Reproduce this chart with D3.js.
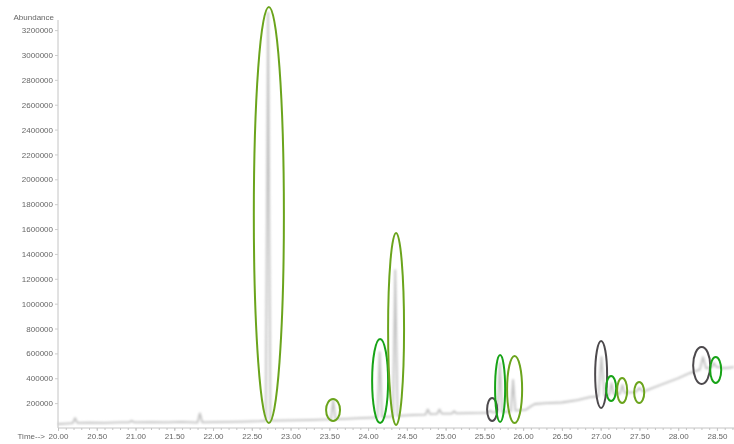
<!DOCTYPE html>
<html><head><meta charset="utf-8">
<script src="https://cdn.jsdelivr.net/npm/d3@7"></script>
<style>
html,body{margin:0;padding:0;background:#fff;}
svg{display:block;}
text{font-family:"Liberation Sans",Arial,sans-serif;fill:#666;}
</style></head>
<body>
<script>
// ---- data ----
const yTicks = [200000,400000,600000,800000,1000000,1200000,1400000,1600000,1800000,2000000,2200000,2400000,2600000,2800000,3000000,3200000];
const xTicks = [20.0,20.5,21.0,21.5,22.0,22.5,23.0,23.5,24.0,24.5,25.0,25.5,26.0,26.5,27.0,27.5,28.0,28.5];
const xTickLabels = ["20.00","20.50","21.00","21.50","22.00","22.50","23.00","23.50","24.00","24.50","25.00","25.50","26.00","26.50","27.00","27.50","28.00","28.50"];
// chromatogram trace: time (min)
const traceTime = [20.00,20.10,20.19,20.22,20.25,20.40,20.60,20.80,20.92,20.95,20.98,21.20,21.40,21.60,21.80,21.83,21.86,22.00,22.20,22.40,22.60,22.68,22.71,22.74,22.80,23.00,23.20,23.40,23.52,23.55,23.58,23.70,23.90,24.05,24.12,24.15,24.18,24.28,24.32,24.35,24.38,24.50,24.61,24.74,24.77,24.80,24.89,24.92,24.95,25.08,25.11,25.14,25.30,25.45,25.54,25.57,25.60,25.67,25.70,25.73,25.84,25.87,25.90,26.03,26.10,26.15,26.30,26.50,26.70,26.86,26.97,27.01,27.05,27.11,27.14,27.17,27.25,27.28,27.31,27.45,27.50,27.55,27.77,28.00,28.15,28.28,28.32,28.36,28.43,28.46,28.49,28.60,28.72];
// chromatogram trace: abundance
const traceAbund = [32000,36000,40000,80000,42000,44000,42000,46000,46000,58000,46000,48000,46000,50000,44000,118000,46000,48000,50000,52000,56000,60000,3340000,62000,60000,62000,64000,68000,70000,225000,72000,74000,80000,84000,86000,611000,90000,92000,94000,1270000,98000,102000,105000,108000,150000,112000,114000,150000,116000,116000,135000,118000,120000,121000,124000,140000,126000,128000,523000,130000,134000,386000,140000,145000,175000,193000,200000,205000,225000,249000,255000,571000,262000,268000,360000,272000,276000,346000,282000,288000,322000,292000,346000,400000,442000,470000,571000,480000,488000,523000,492000,482000,490000];
// annotation ellipses: centre time, half width (min), top and bottom abundance, colour kind
const annTime   = [22.72,23.548,24.155,24.361,25.600,25.703,25.890,27.006,27.135,27.277,27.497,28.303,28.484];
const annHalfW  = [0.194,0.09,0.103,0.103,0.065,0.065,0.097,0.077,0.065,0.065,0.065,0.11,0.071];
const annTop    = [3386000,233000,716000,1568000,241000,587000,579000,700000,418000,402000,370000,651000,571000];
const annBottom = [40000,56000,40000,24000,56000,48000,40000,161000,217000,201000,201000,354000,362000];
const annKind   = ["olive","olive","green","olive","gray","green","olive","gray","green","olive","olive","gray","green"];

// ---- drawing ----
const W = 734, H = 444;
const colors = {olive:"#6ba41c", green:"#18a318", gray:"#4d4a4d"};
const x = d3.scaleLinear().domain([20, 28.72]).range([58, 734]);
const y = d3.scaleLinear().domain([0, 3200000]).range([428, 30.1]);

const svg = d3.select("body").append("svg").attr("width", W).attr("height", H);
const defs = svg.append("defs");
defs.append("filter").attr("id","blur").attr("x","-20%").attr("y","-5%").attr("width","140%").attr("height","110%")
  .append("feGaussianBlur").attr("stdDeviation", 1.2);
defs.append("filter").attr("id","soft")
  .append("feGaussianBlur").attr("stdDeviation", 0.5);

// y axis
const yAxis = d3.axisLeft(y).tickValues(yTicks).tickSize(3).tickFormat(d3.format("d"));
const gy = svg.append("g").attr("transform","translate(58,0)").attr("filter","url(#soft)").call(yAxis);
gy.select(".domain").attr("stroke","#c4c4c4").attr("d","M0,20V428");
gy.selectAll(".tick line").attr("stroke","#ccc");
gy.selectAll(".tick text").attr("font-size",8).attr("fill","#666").attr("x",-5);

svg.append("text").attr("x",54).attr("y",20).attr("text-anchor","end").attr("font-size",8)
  .attr("filter","url(#soft)").text("Abundance");

// x axis minor ticks
const minor = d3.range(200, 288).map(d => d/10);
const xAxisMinor = d3.axisBottom(x).tickValues(minor).tickSize(2).tickFormat("");
const gxm = svg.append("g").attr("transform","translate(0,428)").attr("filter","url(#soft)").call(xAxisMinor);
gxm.select(".domain").attr("stroke","#c4c4c4").attr("d","M58,0H734");
gxm.selectAll(".tick line").attr("stroke","#c4c4c4");

const xAxis = d3.axisBottom(x).tickValues(xTicks).tickSize(3).tickFormat((d,i) => xTickLabels[i]);
const gx = svg.append("g").attr("transform","translate(0,428)").attr("filter","url(#soft)").call(xAxis);
gx.select(".domain").remove();
gx.selectAll(".tick line").attr("stroke","#c4c4c4");
gx.selectAll(".tick text").attr("font-size",8).attr("fill","#666").attr("y",5);

svg.append("text").attr("x",45).attr("y",439).attr("text-anchor","end").attr("font-size",8)
  .attr("filter","url(#soft)").text("Time-->");

// trace
const pts = traceTime.map((t,i) => [t, traceAbund[i]]);
const line = d3.line().x(d => x(d[0])).y(d => y(d[1]));
svg.append("path").datum(pts).attr("d", line).attr("fill","none")
  .attr("stroke","#c2c2c2").attr("stroke-width",1.8).attr("stroke-linejoin","round")
  .attr("filter","url(#blur)");

// annotation ellipses
svg.append("g").selectAll("ellipse").data(annTime).join("ellipse")
  .attr("cx", d => x(d))
  .attr("cy", (d,i) => (y(annTop[i]) + y(annBottom[i]))/2)
  .attr("rx", (d,i) => x(d + annHalfW[i]) - x(d))
  .attr("ry", (d,i) => (y(annBottom[i]) - y(annTop[i]))/2)
  .attr("fill","none")
  .attr("stroke", (d,i) => colors[annKind[i]])
  .attr("stroke-width", 2)
  .attr("filter","url(#soft)");
</script>
</body></html>
